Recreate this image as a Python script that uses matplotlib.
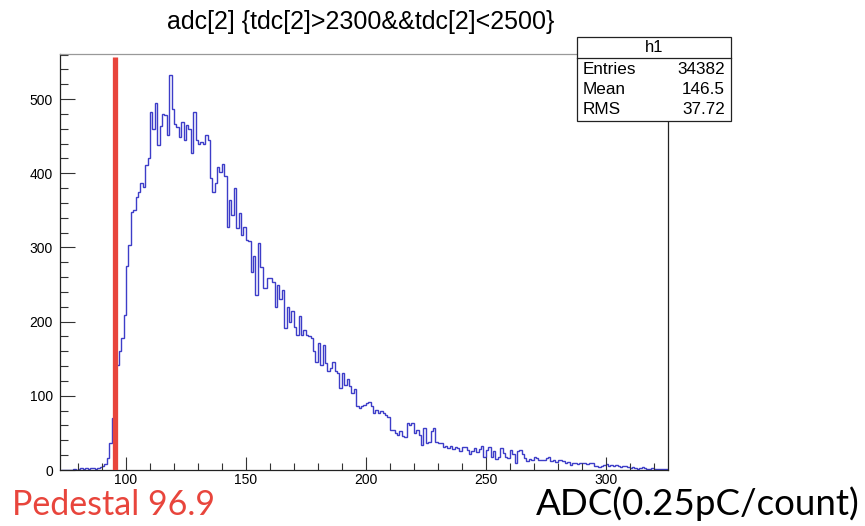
import numpy as np
import matplotlib
matplotlib.use("Agg")
import matplotlib.pyplot as plt
from matplotlib.ticker import MultipleLocator
from matplotlib.patches import Rectangle
from matplotlib.lines import Line2D

# ---- data ----
first_bin = 73
counts = [
    0, 0, 0, 0, 0, 1, 0, 2, 3, 2,          # 73-82
    3, 2, 3, 3, 2, 3, 4, 5, 8, 16,         # 83-92
    37, 70, 110, 142, 160, 178, 209, 275, 303, 348,   # 93-102
    350, 368, 375, 387, 382, 411, 421, 482, 460, 494, # 103-112
    438, 464, 480, 478, 451, 532, 487, 467, 462, 449, # 113-122
    469, 445, 465, 460, 427, 483, 445, 440, 442, 440, # 123-132
    452, 445, 393, 375, 387, 409, 402, 413, 396, 328, # 133-142
    364, 344, 380, 326, 346, 317, 328, 310, 308, 267, # 143-152
    288, 236, 306, 274, 245, 245, 259, 259, 253, 220, # 153-162
    250, 230, 243, 191, 220, 200, 214, 193, 182, 207, # 163-172
    182, 189, 182, 180, 178, 160, 146, 171, 142, 169, # 173-182
    144, 133, 137, 146, 133, 131, 110, 131, 115, 122, # 183-192
    113, 104, 109, 86, 83, 86, 88, 90, 92, 86,        # 193-202
    77, 81, 77, 79, 77, 74, 72, 54, 54, 50,           # 203-212
    47, 52, 46, 45, 63, 61, 63, 50, 54, 47,           # 213-222
    34, 57, 36, 38, 52, 57, 38, 36, 36, 31,           # 223-232
    32, 30, 32, 28, 31, 30, 25, 31, 31, 27,           # 233-242
    22, 26, 30, 24, 28, 32, 18, 27, 31, 18,           # 243-252
    25, 15, 18, 30, 23, 18, 16, 27, 21, 9,            # 253-262
    25, 27, 21, 16, 12, 15, 14, 18, 16, 14,           # 263-272
    13, 14, 16, 18, 12, 14, 11, 13, 14, 12,           # 273-282
    10, 11, 7, 9, 10, 8, 9, 10, 9, 8,                 # 283-292
    10, 9, 5, 6, 4, 5, 7, 8, 6, 7,                    # 293-302
    6, 7, 5, 4, 6, 5, 4, 3, 4, 3,                     # 303-312
    2, 3, 4, 3, 2, 2, 3, 2, 1, 2,                     # 313-322
    2, 1, 2,                                          # 323-325
]
edges = np.arange(first_bin, first_bin + len(counts) + 1)

title = "adc[2] {tdc[2]>2300&&tdc[2]<2500}"
hist_name = "h1"
stats_labels = ["Entries", "Mean", "RMS"]
stats_values = ["34382", "146.5", "37.72"]
pedestal_text = "Pedestal 96.9"
pedestal_line_x = 95.3
xlabel_text = "ADC(0.25pC/count)"

# ---- figure ----
W, H = 865, 526
fig = plt.figure(figsize=(W / 100, H / 100), dpi=100)
fig.patch.set_facecolor("white")

L, R, T, B = 60, 668, 54, 470
ax = fig.add_axes([L / W, 1 - B / H, (R - L) / W, (B - T) / H])

ax.stairs(counts, edges, color="#3d3dc8", lw=1.0, baseline=None)
ax.plot([pedestal_line_x, pedestal_line_x], [0, 556], color="#e8453c",
        lw=3.8, solid_capstyle="butt", zorder=5)

ax.set_xlim(72.5, 326)
ax.set_ylim(0, 560.7)

ax.xaxis.set_major_locator(MultipleLocator(50))
ax.xaxis.set_minor_locator(MultipleLocator(10))
ax.yaxis.set_major_locator(MultipleLocator(100))
ax.yaxis.set_minor_locator(MultipleLocator(20))
ax.tick_params(which="both", direction="in", top=False, right=False,
               labelsize=10, width=0.8, color="#333333")
ax.tick_params(axis="x", which="major", length=9.5, pad=2)
ax.tick_params(axis="x", which="minor", length=5)
ax.tick_params(axis="y", which="major", length=11, pad=5)
ax.tick_params(axis="y", which="minor", length=5.5)
for lab in ax.get_xticklabels() + ax.get_yticklabels():
    lab.set_fontfamily(["Liberation Sans", "DejaVu Sans"])
for s in ax.spines.values():
    s.set_linewidth(0.9)
    s.set_color("#222222")
ax.spines["top"].set_color("#999999")

# title
fig.text(361 / W, 1 - 22 / H, title, ha="center", va="center",
         fontsize=18, family=["Liberation Sans", "DejaVu Sans"])

# stats box
bx0, bx1, by0, by1 = 577, 731, 37, 121
fig.patches.append(Rectangle((bx0 / W, 1 - by1 / H), (bx1 - bx0) / W,
                             (by1 - by0) / H, transform=fig.transFigure,
                             facecolor="white", edgecolor="#222222", lw=0.9,
                             zorder=10))
fig.lines.append(Line2D([bx0 / W, bx1 / W], [1 - 58 / H, 1 - 58 / H],
                        transform=fig.transFigure, color="#222222", lw=0.9,
                        zorder=11))
fig.text((bx0 + bx1) / 2 / W, 1 - 48 / H, hist_name, ha="center", va="center",
         fontsize=12, family=["Liberation Sans"], zorder=12)
for i, (lab, val) in enumerate(zip(stats_labels, stats_values)):
    yy = 1 - (70 + 20 * i) / H
    fig.text(583 / W, yy, lab, ha="left", va="center", fontsize=12.3,
             family=["Liberation Sans"], zorder=12)
    fig.text(725 / W, yy, val, ha="right", va="center", fontsize=12.3,
             family=["Liberation Sans"], zorder=12)

# bottom annotations
fig.text(12 / W, 1 - 515 / H, pedestal_text, ha="left", va="baseline",
         fontsize=24.5, color="#e8453c", family=["Lato", "DejaVu Sans"])
fig.text(860 / W, 1 - 515 / H, xlabel_text, ha="right", va="baseline",
         fontsize=26.5, color="black", family=["Lato", "DejaVu Sans"])

fig.savefig("out.png", dpi=100)
